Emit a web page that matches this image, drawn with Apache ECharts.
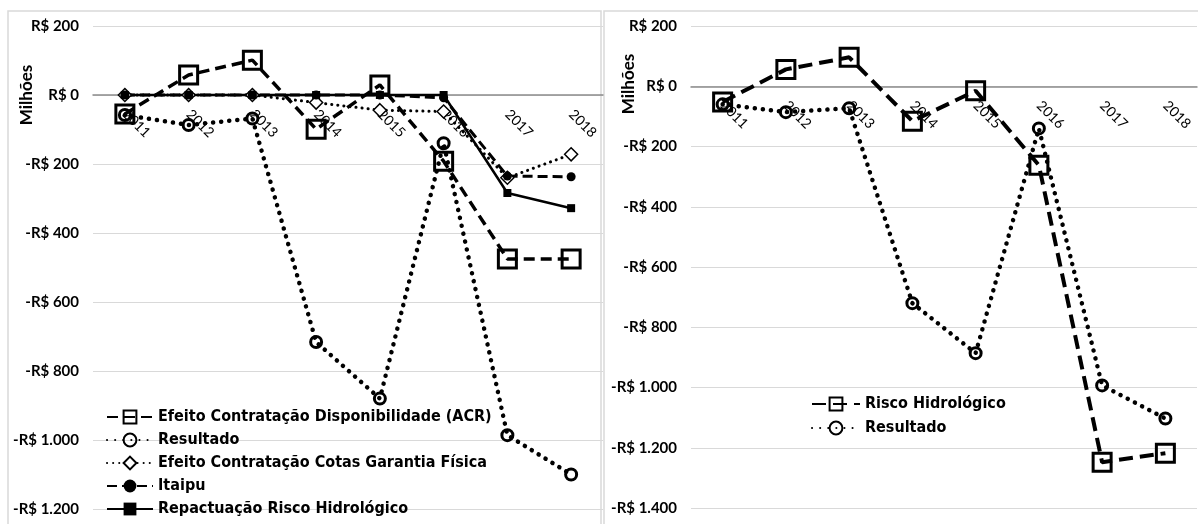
<!DOCTYPE html>
<html><head><meta charset="utf-8">
<script src="https://cdn.jsdelivr.net/npm/echarts@6/dist/echarts.min.js"></script>
<style>html,body{margin:0;padding:0;background:#fff}#c{width:1198px;height:524px}</style>
</head><body><div id="c"></div>
<script>
const years = ['2011','2012','2013','2014','2015','2016','2017','2018'];
// Left chart
const acr = [-55, 58, 101, -99, 29, -192, -475, -475];
const resultadoL = [-58, -87, -68, -716, -880, -140, -986, -1100];
const cotas = [0, 0, 0, -22, -44, -48, -240, -172];
const itaipu = [0, 0, 0, 0, 0, -8, -235, -237];
const repact = [0, 0, 0, 0, 0, 0, -284, -328];
// Right chart
const risco = [-52, 56, 96, -116, -15, -262, -1248, -1218];
const resultadoR = [-60, -86, -73, -720, -886, -140, -993, -1103];

const seriesNamesL = ['Efeito Contratação Disponibilidade (ACR)','Resultado','Efeito Contratação Cotas Garantia Física','Itaipu','Repactuação Risco Hidrológico'];
const seriesNamesR = ['Risco Hidrológico','Resultado '];

function brl(v){
  const a = Math.abs(v);
  const s = a >= 1000 ? Math.floor(a/1000) + '.' + String(a%1000).padStart(3,'0') : String(a);
  return (v < 0 ? '-R$ ' : 'R$ ') + s;
}

const chart = echarts.init(document.getElementById('c'), null, {renderer:'canvas'});
const legendFont = "'Liberation Sans Narrow','DejaVu Sans Condensed','DejaVu Sans',sans-serif";
const yLabel = {fontFamily:'Lato, sans-serif', fontWeight:'bold', fontSize:15, color:'#000', formatter: brl, margin: 14};
const xLabel = {fontFamily:'Lato, sans-serif', fontSize:14, color:'#000', rotate:-45, interval:0, margin:17};
const dotted = [0.1, 8];
const hollow = 'rgba(255,255,255,0)';

// grid geometry
const gL = {left:93, top:26, width:510, height:483};
const gR = {left:691, top:26, width:506, height:482};
const minL = -1200, maxL = 200, minR = -1400, maxR = 200;
const offL = -(gL.height * (0 - minL) / (maxL - minL));
const offR = -(gR.height * (0 - minR) / (maxR - minR));

const legendText = {fontFamily:legendFont, fontWeight:'bold', fontSize:16, lineHeight:16, color:'#000'};

chart.setOption({
  animation:false,
  graphic:[
    {type:'rect', shape:{x:8,y:11,width:593,height:520}, style:{fill:'none', stroke:'#d9d9d9', lineWidth:1.5}, z:-10},
    {type:'rect', shape:{x:604,y:11,width:600,height:520}, style:{fill:'none', stroke:'#d9d9d9', lineWidth:1.5}, z:-10},
    {type:'text', x:27, y:95, rotation:Math.PI/2, style:{text:'Milhões', font:'bold 17px Lato, sans-serif', fill:'#000', align:'center', verticalAlign:'middle'}},
    {type:'text', x:629, y:84, rotation:Math.PI/2, style:{text:'Milhões', font:'bold 17px Lato, sans-serif', fill:'#000', align:'center', verticalAlign:'middle'}}
  ],
  grid:[gL, gR],
  legend:[
    {data:seriesNamesL, left:106, top:409, height:200, orient:'vertical', padding:0, itemWidth:46, itemHeight:16, itemGap:7,
     textStyle:legendText},
    {data:seriesNamesR, left:811, top:396, height:200, orient:'vertical', padding:0, itemWidth:48, itemHeight:16, itemGap:8,
     textStyle:legendText}
  ],
  xAxis:[
    {type:'category', data:years, gridIndex:0, boundaryGap:true, offset:offL,
     axisLine:{onZero:false, lineStyle:{color:'#8c8c8c', width:1.5}}, axisTick:{show:false}, axisLabel:xLabel},
    {type:'category', data:years, gridIndex:1, boundaryGap:true, offset:offR,
     axisLine:{onZero:false, lineStyle:{color:'#8c8c8c', width:1.5}}, axisTick:{show:false}, axisLabel:xLabel}
  ],
  yAxis:[
    {type:'value', gridIndex:0, min:minL, max:maxL, interval:200,
     axisLine:{show:false}, axisTick:{show:false}, axisLabel:yLabel,
     splitLine:{lineStyle:{color:'#d9d9d9', width:1}}},
    {type:'value', gridIndex:1, min:minR, max:maxR, interval:200,
     axisLine:{show:false}, axisTick:{show:false}, axisLabel:yLabel,
     splitLine:{lineStyle:{color:'#d9d9d9', width:1}}}
  ],
  series:[
    {name:seriesNamesL[0], type:'line', xAxisIndex:0, yAxisIndex:0, data:acr,
     symbol:'rect', symbolSize:18, z:5,
     itemStyle:{color:hollow, borderColor:'#000', borderWidth:3},
     lineStyle:{color:'#000', width:3.5, type:[11,6]}},
    {name:seriesNamesL[1], type:'line', xAxisIndex:0, yAxisIndex:0, data:resultadoL,
     symbol:'circle', symbolSize:11, z:4,
     itemStyle:{color:hollow, borderColor:'#000', borderWidth:3},
     lineStyle:{color:'#000', width:4.5, type:dotted, cap:'round'}},
    {name:seriesNamesL[2], type:'line', xAxisIndex:0, yAxisIndex:0, data:cotas,
     symbol:'diamond', symbolSize:13, z:3,
     itemStyle:{color:'#fff', borderColor:'#000', borderWidth:1.5},
     lineStyle:{color:'#000', width:3, type:[0.1,6], cap:'round'}},
    {name:seriesNamesL[3], type:'line', xAxisIndex:0, yAxisIndex:0, data:itaipu,
     symbol:'circle', symbolSize:9, z:3,
     itemStyle:{color:'#000', borderColor:'#000', borderWidth:0},
     lineStyle:{color:'#000', width:3, type:[10,5]}},
    {name:seriesNamesL[4], type:'line', xAxisIndex:0, yAxisIndex:0, data:repact,
     symbol:'rect', symbolSize:8, z:3,
     itemStyle:{color:'#000'},
     lineStyle:{color:'#000', width:2.5, type:'solid'}},
    {name:seriesNamesR[0], type:'line', xAxisIndex:1, yAxisIndex:1, data:risco,
     symbol:'rect', symbolSize:18, z:5,
     itemStyle:{color:hollow, borderColor:'#000', borderWidth:3},
     lineStyle:{color:'#000', width:4, type:[14,7]}},
    {name:seriesNamesR[1], type:'line', xAxisIndex:1, yAxisIndex:1, data:resultadoR,
     symbol:'circle', symbolSize:11, z:4,
     itemStyle:{color:hollow, borderColor:'#000', borderWidth:3},
     lineStyle:{color:'#000', width:4.5, type:dotted, cap:'round'}}
  ]
});
</script></body></html>
